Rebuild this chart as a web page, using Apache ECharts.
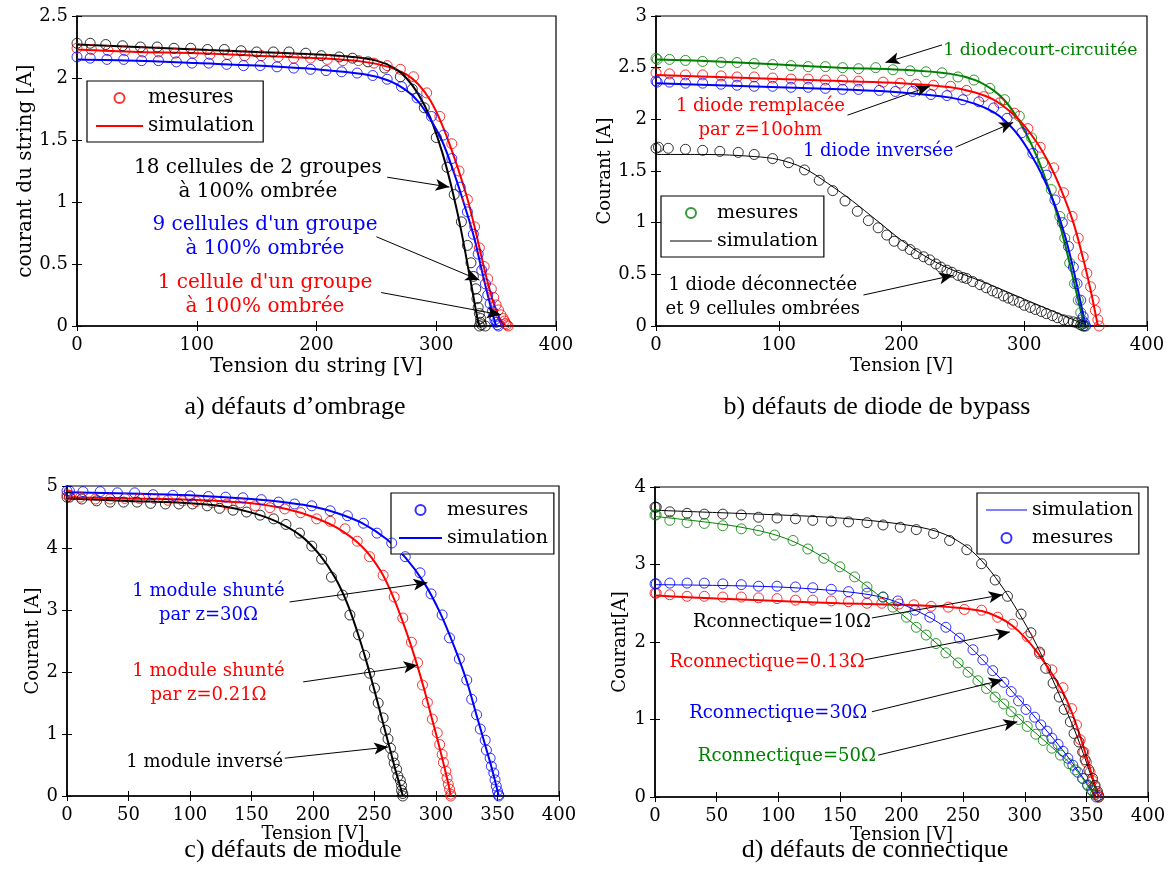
<!DOCTYPE html>
<html><head><meta charset="utf-8">
<script src="https://cdn.jsdelivr.net/npm/echarts@6/dist/echarts.min.js"></script>
<style>html,body{margin:0;padding:0;background:#fff}#c{width:1169px;height:888px}</style>
</head><body><div id="c"></div>
<script>
// ---------- axis ticks ----------
const xTicksAB = [0, 100, 200, 300, 400];
const xTicksCD = [0, 50, 100, 150, 200, 250, 300, 350, 400];
const yTicksA = [0, 0.5, 1, 1.5, 2, 2.5];
const yTicksB = [0, 0.5, 1, 1.5, 2, 2.5, 3];
const yTicksC = [0, 1, 2, 3, 4, 5];
const yTicksD = [0, 1, 2, 3, 4];

// ---------- a) défauts d'ombrage : [V, I] ----------
const a_mes_noir = [[0,2.28],[11,2.28],[24,2.27],[38,2.26],[53,2.25],[67,2.25],[81,2.24],[95,2.24],[109,2.23],[123,2.23],[137,2.22],[150,2.21],[164,2.21],[177,2.21],[191,2.20],[204,2.18],[219,2.17],[230,2.16],[243,2.13],[257,2.08],[270,2.01],[280,1.91],[290,1.76],[300,1.52],[309,1.28],[315,1.06],[321,0.84],[326,0.65],[329,0.51],[331,0.40],[333,0.30],[334,0.22],[335,0.15],[336,0.10],[337,0.06],[337,0.03],[338,0.01],[336,0.0],[341,0.0]];
const a_sim_noir = [[0,2.27],[50,2.25],[100,2.23],[150,2.21],[200,2.19],[230,2.17],[250,2.14],[265,2.08],[275,2.00],[285,1.87],[295,1.68],[305,1.40],[312,1.15],[318,0.90],[323,0.66],[327,0.45],[331,0.24],[334,0.08],[336,0]];
const a_mes_rouge = [[0,2.24],[12,2.23],[26,2.22],[40,2.22],[55,2.21],[68,2.21],[82,2.20],[97,2.20],[111,2.19],[126,2.19],[140,2.18],[154,2.18],[168,2.17],[181,2.16],[195,2.16],[209,2.15],[222,2.14],[235,2.14],[248,2.12],[259,2.10],[270,2.07],[281,2.01],[292,1.88],[303,1.69],[313,1.47],[319,1.25],[326,1.02],[332,0.80],[336,0.63],[340,0.48],[343,0.38],[346,0.30],[348,0.23],[350,0.17],[352,0.13],[354,0.09],[356,0.06],[357,0.04],[358,0.02],[359,0.01],[360,0.0]];
const a_sim_rouge = [[0,2.23],[50,2.21],[100,2.20],[150,2.18],[200,2.16],[240,2.13],[260,2.09],[275,2.03],[285,1.95],[295,1.82],[305,1.62],[315,1.36],[325,1.06],[332,0.80],[338,0.55],[343,0.35],[348,0.18],[353,0.06],[358,0]];
const a_mes_bleu = [[0,2.17],[11,2.16],[25,2.15],[39,2.15],[54,2.14],[68,2.14],[83,2.13],[96,2.12],[110,2.12],[125,2.11],[139,2.10],[153,2.10],[167,2.09],[181,2.08],[195,2.07],[208,2.06],[221,2.05],[234,2.04],[247,2.02],[259,1.99],[271,1.93],[284,1.84],[296,1.69],[306,1.54],[313,1.35],[320,1.12],[326,0.92],[331,0.74],[335,0.58],[338,0.45],[341,0.34],[343,0.25],[345,0.18],[347,0.12],[348,0.08],[349,0.05],[350,0.03],[351,0.01],[352,0.0]];
const a_sim_bleu = [[0,2.15],[50,2.14],[100,2.12],[150,2.10],[200,2.07],[240,2.03],[260,1.98],[275,1.90],[285,1.81],[295,1.67],[305,1.49],[315,1.23],[325,0.93],[332,0.70],[338,0.45],[343,0.25],[347,0.10],[350,0.0]];

// ---------- b) défauts de diode de bypass ----------
const b_mes_vert = [[0,2.59],[1,2.58],[11,2.58],[24,2.57],[38,2.56],[53,2.55],[66,2.55],[80,2.54],[95,2.53],[110,2.52],[124,2.51],[138,2.51],[152,2.50],[165,2.49],[179,2.50],[193,2.48],[207,2.47],[220,2.46],[233,2.45],[246,2.41],[259,2.38],[272,2.30],[284,2.19],[296,2.03],[306,1.82],[315,1.58],[322,1.32],[329,1.06],[333,0.85],[337,0.61],[341,0.41],[344,0.25],[346,0.13],[347,0.06],[348,0.02],[349,0.0]];
const b_sim_vert = [[0,2.58],[50,2.56],[100,2.53],[150,2.50],[200,2.48],[240,2.44],[260,2.38],[275,2.28],[285,2.17],[295,2.00],[305,1.78],[315,1.50],[325,1.15],[333,0.80],[340,0.45],[345,0.20],[349,0]];
const b_mes_rouge = [[0,2.45],[11,2.44],[24,2.43],[38,2.43],[53,2.42],[66,2.41],[80,2.41],[95,2.40],[110,2.39],[124,2.39],[138,2.38],[152,2.38],[165,2.37],[185,2.36],[199,2.35],[212,2.34],[226,2.33],[240,2.32],[253,2.28],[267,2.22],[280,2.16],[292,2.06],[303,1.91],[313,1.73],[324,1.53],[332,1.29],[339,1.06],[344,0.85],[348,0.67],[351,0.51],[354,0.38],[357,0.25],[358,0.15],[360,0.06],[361,0.0]];
const b_sim_rouge = [[0,2.43],[50,2.41],[100,2.39],[150,2.37],[200,2.35],[240,2.31],[260,2.26],[275,2.19],[290,2.06],[300,1.94],[310,1.78],[320,1.58],[330,1.32],[340,1.00],[348,0.65],[354,0.35],[358,0.12],[360,0]];
const b_mes_bleu = [[0,2.37],[1,2.36],[11,2.36],[24,2.35],[38,2.35],[53,2.34],[66,2.33],[80,2.32],[95,2.32],[110,2.31],[124,2.31],[138,2.30],[152,2.29],[165,2.29],[182,2.28],[195,2.27],[209,2.27],[224,2.24],[237,2.23],[250,2.19],[263,2.17],[275,2.11],[286,2.01],[298,1.87],[307,1.67],[318,1.46],[325,1.22],[331,1.0],[336,0.77],[340,0.57],[343,0.41],[346,0.25],[348,0.09],[349,0.03],[350,0.0]];
const b_sim_bleu = [[0,2.35],[50,2.33],[100,2.31],[150,2.29],[200,2.26],[240,2.21],[260,2.15],[275,2.07],[285,1.98],[295,1.85],[305,1.67],[315,1.45],[325,1.17],[333,0.88],[340,0.55],[345,0.28],[350,0]];
const b_mes_noir = [[0,1.72],[2,1.73],[10,1.72],[24,1.71],[38,1.70],[52,1.69],[67,1.68],[80,1.66],[95,1.62],[108,1.58],[121,1.51],[133,1.41],[144,1.31],[154,1.21],[164,1.11],[173,1.02],[181,0.95],[188,0.88],[194,0.82],[201,0.78],[207,0.74],[212,0.70],[218,0.67],[223,0.64],[228,0.60],[232,0.57],[237,0.54],[241,0.52],[246,0.49],[250,0.47],[253,0.46],[258,0.43],[264,0.40],[269,0.37],[274,0.34],[278,0.32],[283,0.29],[287,0.27],[291,0.25],[296,0.23],[300,0.20],[305,0.18],[309,0.16],[314,0.14],[318,0.12],[323,0.10],[327,0.08],[332,0.06],[336,0.05],[340,0.04],[343,0.03],[346,0.01],[348,0.0]];
const b_sim_noir = [[0,1.66],[40,1.66],[80,1.64],[100,1.61],[120,1.53],[140,1.38],[160,1.21],[180,1.02],[200,0.83],[220,0.67],[240,0.55],[270,0.41],[300,0.26],[330,0.11],[348,0.02],[350,0]];

// ---------- c) défauts de module ----------
const c_mes_noir = [[0,4.82],[2,4.82],[12,4.79],[24,4.76],[35,4.74],[46,4.74],[57,4.74],[68,4.72],[80,4.71],[91,4.71],[102,4.71],[114,4.68],[124,4.64],[135,4.61],[146,4.58],[157,4.53],[168,4.47],[178,4.38],[189,4.24],[199,4.03],[207,3.82],[215,3.53],[224,3.24],[230,2.92],[237,2.60],[242,2.27],[246,1.98],[250,1.74],[253,1.50],[257,1.26],[259,1.06],[261,0.92],[263,0.77],[265,0.64],[266,0.53],[268,0.43],[269,0.32],[271,0.25],[272,0.17],[272,0.09],[273,0.04],[273,0.0]];
const c_sim_noir = [[0,4.80],[50,4.76],[100,4.72],[130,4.66],[150,4.57],[170,4.43],[190,4.20],[205,3.90],[218,3.52],[228,3.10],[236,2.65],[243,2.20],[250,1.70],[256,1.25],[262,0.80],[267,0.42],[271,0.15],[273,0]];
const c_mes_rouge = [[0,4.86],[2,4.85],[11,4.82],[23,4.79],[35,4.79],[47,4.80],[59,4.80],[71,4.80],[82,4.77],[94,4.76],[105,4.75],[118,4.73],[130,4.71],[141,4.73],[153,4.68],[165,4.65],[177,4.63],[190,4.57],[203,4.47],[214,4.43],[226,4.31],[236,4.11],[246,3.86],[257,3.56],[266,3.21],[273,2.87],[280,2.48],[285,2.15],[289,1.79],[293,1.51],[297,1.24],[301,1.02],[303,0.83],[305,0.67],[306,0.54],[308,0.40],[309,0.29],[310,0.19],[311,0.11],[312,0.03],[312,0.0]];
const c_sim_rouge = [[0,4.82],[50,4.80],[100,4.78],[150,4.72],[180,4.62],[200,4.50],[220,4.32],[240,4.02],[255,3.63],[265,3.22],[275,2.70],[283,2.22],[290,1.75],[296,1.30],[302,0.85],[307,0.45],[310,0.20],[312,0]];
const c_mes_bleu = [[0,4.92],[2,4.92],[13,4.91],[27,4.91],[41,4.89],[55,4.89],[70,4.86],[86,4.85],[100,4.84],[115,4.83],[129,4.82],[143,4.81],[158,4.78],[172,4.74],[185,4.71],[199,4.68],[214,4.60],[228,4.52],[241,4.40],[252,4.24],[264,4.08],[275,3.86],[287,3.60],[296,3.26],[305,2.92],[311,2.55],[319,2.21],[325,1.87],[329,1.56],[333,1.31],[336,1.08],[340,0.90],[341,0.74],[344,0.61],[345,0.48],[347,0.37],[348,0.26],[349,0.16],[350,0.08],[351,0.02],[351,0.0]];
const c_sim_bleu = [[0,4.90],[50,4.88],[100,4.85],[150,4.79],[180,4.73],[200,4.67],[220,4.56],[240,4.40],[260,4.14],[275,3.85],[290,3.45],[303,2.97],[315,2.40],[325,1.85],[333,1.30],[340,0.82],[346,0.40],[351,0]];

// ---------- d) défauts de connectique ----------
const d_mes_noir = [[0,3.74],[1,3.74],[12,3.68],[26,3.66],[40,3.65],[55,3.65],[70,3.64],[84,3.61],[99,3.60],[114,3.59],[128,3.57],[143,3.56],[157,3.55],[172,3.54],[185,3.51],[199,3.48],[212,3.45],[226,3.40],[239,3.31],[253,3.19],[265,3.01],[276,2.80],[286,2.59],[297,2.36],[305,2.12],[312,1.87],[317,1.66],[323,1.47],[328,1.29],[332,1.13],[337,0.97],[340,0.82],[344,0.71],[347,0.58],[349,0.48],[352,0.35],[355,0.24],[357,0.15],[359,0.07],[360,0.02],[360,0.0]];
const d_sim_noir = [[0,3.70],[50,3.67],[100,3.64],[150,3.60],[200,3.52],[230,3.42],[250,3.26],[265,3.05],[280,2.75],[295,2.38],[310,1.95],[325,1.43],[340,0.88],[350,0.45],[357,0.12],[360,0]];
const d_mes_rouge = [[0,2.63],[1,2.63],[12,2.61],[26,2.59],[40,2.59],[55,2.58],[70,2.58],[84,2.57],[99,2.56],[114,2.54],[128,2.54],[143,2.53],[157,2.52],[172,2.50],[184,2.50],[198,2.49],[210,2.48],[224,2.46],[238,2.45],[251,2.42],[265,2.41],[278,2.32],[290,2.23],[302,2.07],[312,1.85],[322,1.64],[331,1.41],[338,1.14],[342,0.93],[345,0.74],[348,0.58],[350,0.45],[353,0.32],[355,0.21],[357,0.13],[359,0.05],[360,0.0]];
const d_sim_rouge = [[0,2.60],[50,2.56],[100,2.53],[150,2.50],[200,2.48],[240,2.45],[265,2.40],[280,2.31],[290,2.21],[300,2.06],[310,1.87],[320,1.64],[330,1.38],[338,1.10],[345,0.78],[352,0.42],[357,0.15],[360,0]];
const d_mes_bleu = [[0,2.75],[1,2.75],[12,2.76],[26,2.76],[40,2.76],[55,2.75],[70,2.74],[84,2.72],[99,2.72],[114,2.71],[128,2.70],[143,2.68],[157,2.65],[172,2.63],[185,2.58],[197,2.53],[211,2.41],[223,2.32],[236,2.19],[247,2.05],[258,1.90],[266,1.77],[274,1.63],[283,1.48],[289,1.36],[295,1.24],[301,1.13],[308,1.03],[313,0.93],[318,0.85],[322,0.76],[327,0.68],[331,0.59],[335,0.50],[339,0.41],[343,0.32],[347,0.24],[351,0.15],[355,0.08],[358,0.0]];
const d_sim_bleu = [[0,2.74],[50,2.73],[100,2.71],[140,2.67],[170,2.62],[190,2.55],[210,2.42],[230,2.25],[250,2.02],[270,1.70],[290,1.36],[310,1.00],[330,0.62],[345,0.30],[358,0]];
const d_mes_vert = [[0,3.64],[1,3.64],[12,3.57],[26,3.54],[40,3.53],[55,3.50],[70,3.46],[84,3.44],[97,3.38],[112,3.31],[124,3.20],[137,3.08],[150,2.97],[162,2.84],[172,2.71],[185,2.58],[193,2.45],[204,2.32],[212,2.19],[220,2.09],[228,1.98],[236,1.86],[246,1.73],[254,1.61],[262,1.50],[269,1.40],[276,1.29],[283,1.20],[289,1.10],[295,1.00],[302,0.91],[309,0.81],[315,0.73],[322,0.63],[329,0.54],[336,0.43],[341,0.35],[347,0.24],[351,0.16],[354,0.09],[357,0.03]];
const d_sim_vert = [[0,3.62],[50,3.53],[80,3.45],[100,3.37],[120,3.24],[140,3.06],[160,2.86],[180,2.62],[200,2.36],[220,2.10],[240,1.82],[260,1.54],[280,1.25],[300,0.95],[320,0.67],[340,0.38],[357,0]];

// ---------- texts ----------
const titles = ['a) défauts d\u2019ombrage', 'b) défauts de diode de bypass', 'c) défauts de module', 'd) défauts de connectique'];
const xNames = ['Tension du string [V]', 'Tension [V]', 'Tension [V]', 'Tension [V]'];
const yNames = ['courant du string [A]', 'Courant [A]', 'Courant [A]', 'Courant[A]'];
// annotations: [text, [Vtext, Itext], [Vfrom, Ifrom], [Vto, Ito], colour, align]
const annotA = [
  ['18 cellules de 2 groupes\nà 100% ombrée', [151, 1.18], [259, 1.20], [311, 1.12], 'noir', 'center'],
  ['9 cellules d\'un groupe\nà 100% ombrée', [157, 0.72], [250, 0.72], [336, 0.37], 'bleu', 'center'],
  ['1 cellule d\'un groupe\nà 100% ombrée', [157, 0.25], [254, 0.27], [354, 0.09], 'rouge', 'center']
];
const annotB = [
  ['1 diodecourt-circuitée', [234, 2.67], [233, 2.72], [187, 2.55], 'vert', 'left'],
  ['1 diode remplacée\npar z=10ohm', [85, 2.01], [156, 2.04], [223, 2.32], 'rouge', 'center'],
  ['1 diode inversée', [181, 1.69], [244, 1.73], [291, 1.97], 'bleu', 'center'],
  ['1 diode déconnectée\net 9 cellules ombrées', [87, 0.28], [169, 0.30], [242, 0.49], 'noir', 'center']
];
const annotC = [
  ['1 module shunté\npar z=30\u03a9', [115, 3.10], [181, 3.13], [293, 3.44], 'bleu', 'center'],
  ['1 module shunté\npar z=0.21\u03a9', [115, 1.81], [192, 1.84], [285, 2.11], 'rouge', 'center'],
  ['1 module inversé', [112, 0.55], [177, 0.61], [261, 0.79], 'noir', 'center']
];
const annotD = [
  ['Rconnectique=10\u03a9', [103, 2.25], [176, 2.31], [282, 2.61], 'noir', 'center'],
  ['Rconnectique=0.13\u03a9', [91, 1.74], [170, 1.77], [288, 2.13], 'rouge', 'center'],
  ['Rconnectique=30\u03a9', [100, 1.08], [176, 1.10], [282, 1.51], 'bleu', 'center'],
  ['Rconnectique=50\u03a9', [107, 0.52], [181, 0.54], [294, 0.97], 'vert', 'center']
];

// ---------- styling ----------
const COL = { noir: '#000000', rouge: '#ff0000', bleu: '#0000ff', vert: '#008000' };
const SERIF = '"DejaVu Serif", serif';
const grids = [
  { left: 77, top: 16, width: 479, height: 310 },
  { left: 656, top: 16, width: 491, height: 310 },
  { left: 67, top: 486, width: 492, height: 310 },
  { left: 655, top: 487, width: 493, height: 310 }
];
const xTicks = [xTicksAB, xTicksAB, xTicksCD, xTicksCD];
const yTicks = [yTicksA, yTicksB, yTicksC, yTicksD];
const xNameGap = [31, 31, 28, 27];
const yNameGap = [40, 35, 24, 26];
const nameSize = [20, 18, 18, 18];
const annotSize = [20, 18, 18, 18];

const xAxis = [], yAxis = [];
for (let p = 0; p < 4; p++) {
  const xt = xTicks[p], yt = yTicks[p];
  const common = {
    gridIndex: p, type: 'value', splitLine: { show: false },
    axisTick: { inside: true, length: 5, lineStyle: { color: '#000', width: 1 } }
  };
  xAxis.push(Object.assign({}, common, {
    position: 'bottom', min: xt[0], max: xt[xt.length - 1], interval: xt[1] - xt[0],
    axisLine: { show: true, lineStyle: { color: '#000', width: 1.6 } },
    axisLabel: { color: '#000', fontFamily: SERIF, fontSize: 18, margin: 10 },
    name: xNames[p], nameLocation: 'middle', nameGap: xNameGap[p],
    nameTextStyle: { color: '#000', fontFamily: SERIF, fontSize: nameSize[p] }
  }));
  xAxis.push(Object.assign({}, common, {
    position: 'top', min: xt[0], max: xt[xt.length - 1], interval: xt[1] - xt[0],
    axisLine: { show: false }, axisLabel: { show: false }
  }));
  yAxis.push(Object.assign({}, common, {
    position: 'left', min: yt[0], max: yt[yt.length - 1], interval: yt[1] - yt[0],
    axisLine: { show: true, lineStyle: { color: '#000', width: 1.6 } },
    axisLabel: { color: '#000', fontFamily: SERIF, fontSize: 18, margin: 9 },
    name: yNames[p], nameLocation: 'middle', nameGap: yNameGap[p],
    nameTextStyle: { color: '#000', fontFamily: SERIF, fontSize: nameSize[p] }
  }));
  yAxis.push(Object.assign({}, common, {
    position: 'right', min: yt[0], max: yt[yt.length - 1], interval: yt[1] - yt[0],
    axisLine: { show: false }, axisLabel: { show: false }
  }));
}

const series = [];
function addLine(p, name, data, col, width) {
  series.push({
    type: 'line', name: name, xAxisIndex: 2 * p, yAxisIndex: 2 * p, data: data,
    symbol: 'none', smooth: 0.35, lineStyle: { color: COL[col], width: width },
    itemStyle: { color: COL[col] }, z: 3, silent: true
  });
}
function addMes(p, name, data, col) {
  series.push({
    type: 'scatter', name: name, xAxisIndex: 2 * p, yAxisIndex: 2 * p, data: data,
    symbol: 'circle', symbolSize: 10,
    itemStyle: { color: 'rgba(0,0,0,0)', borderColor: COL[col], borderWidth: 1 },
    z: 4, silent: true
  });
}
function addAnnot(p, list) {
  series.push({
    type: 'scatter', name: 'annot' + p, xAxisIndex: 2 * p, yAxisIndex: 2 * p,
    symbolSize: 0.01, itemStyle: { color: 'rgba(0,0,0,0)' }, silent: true, z: 6,
    data: list.map(a => ({
      value: a[1],
      label: {
        show: true, position: 'inside', formatter: a[0], color: COL[a[4]], align: a[5],
        verticalAlign: 'middle', textBorderWidth: 0, opacity: 1,
        fontFamily: SERIF, fontSize: (p === 1 && a[5] === 'left') ? 17.3 : annotSize[p], lineHeight: 24
      }
    })),
    markLine: {
      silent: true, symbol: ['none', 'arrow'], symbolSize: [9, 14], animation: false,
      lineStyle: { color: '#000', width: 1, type: 'solid' }, label: { show: false },
      data: list.map(a => [{ coord: a[2] }, { coord: a[3] }])
    }
  });
}

// a
addLine(0, 'simulation\u00b7a', a_sim_rouge, 'rouge', 2);
addLine(0, 'a_sim_noir', a_sim_noir, 'noir', 2);
addLine(0, 'a_sim_bleu', a_sim_bleu, 'bleu', 2);
addMes(0, 'mesures\u00b7a', a_mes_rouge, 'rouge');
addMes(0, 'a_mes_noir', a_mes_noir, 'noir');
addMes(0, 'a_mes_bleu', a_mes_bleu, 'bleu');
addAnnot(0, annotA);
// b
addLine(1, 'b_sim_vert', b_sim_vert, 'vert', 2);
addLine(1, 'b_sim_rouge', b_sim_rouge, 'rouge', 2);
addLine(1, 'b_sim_bleu', b_sim_bleu, 'bleu', 2);
addLine(1, 'simulation\u00b7b', b_sim_noir, 'noir', 1);
addMes(1, 'mesures\u00b7b', b_mes_vert, 'vert');
addMes(1, 'b_mes_rouge', b_mes_rouge, 'rouge');
addMes(1, 'b_mes_bleu', b_mes_bleu, 'bleu');
addMes(1, 'b_mes_noir', b_mes_noir, 'noir');
addAnnot(1, annotB);
// c
addLine(2, 'c_sim_noir', c_sim_noir, 'noir', 2);
addLine(2, 'c_sim_rouge', c_sim_rouge, 'rouge', 2);
addLine(2, 'simulation\u00b7c', c_sim_bleu, 'bleu', 2);
addMes(2, 'c_mes_noir', c_mes_noir, 'noir');
addMes(2, 'c_mes_rouge', c_mes_rouge, 'rouge');
addMes(2, 'mesures\u00b7c', c_mes_bleu, 'bleu');
addAnnot(2, annotC);
// d
addLine(3, 'd_sim_noir', d_sim_noir, 'noir', 1);
addLine(3, 'd_sim_rouge', d_sim_rouge, 'rouge', 2);
addLine(3, 'simulation\u00b7d', d_sim_bleu, 'bleu', 1);
addLine(3, 'd_sim_vert', d_sim_vert, 'vert', 1);
addMes(3, 'd_mes_noir', d_mes_noir, 'noir');
addMes(3, 'd_mes_rouge', d_mes_rouge, 'rouge');
addMes(3, 'mesures\u00b7d', d_mes_bleu, 'bleu');
addMes(3, 'd_mes_vert', d_mes_vert, 'vert');
addAnnot(3, annotD);

const THICK = 'path://M0,0H100V4.6H0Z';
const THIN = 'path://M0,0H100V2.4H0Z';
function legend(left, top, items, w, fs, pad) {
  return {
    left: left, top: top, orient: 'vertical', selectedMode: false,
    data: items.map(it => it[1] ? { name: it[0], icon: it[1] } : { name: it[0] }),
    itemWidth: w, itemHeight: 10, itemGap: 6,
    padding: pad, borderColor: '#000', borderWidth: 1.2, backgroundColor: '#fff',
    formatter: n => n.split('\u00b7')[0],
    textStyle: { color: '#000', fontFamily: SERIF, fontSize: fs, lineHeight: 22 }
  };
}

const option = {
  animation: false,
  backgroundColor: '#fff',
  grid: grids.map(g => Object.assign({ show: true, borderColor: '#000', borderWidth: 1.2, backgroundColor: 'rgba(0,0,0,0)' }, g)),
  xAxis: xAxis, yAxis: yAxis,
  title: [
    { text: titles[0], left: 290, top: 389 },
    { text: titles[1], left: 872, top: 389 },
    { text: titles[2], left: 288, top: 832 },
    { text: titles[3], left: 870, top: 832 }
  ].map(t => Object.assign(t, { textAlign: 'center', textStyle: { color: '#000', fontFamily: '"Liberation Serif", serif', fontSize: 26, fontWeight: 'normal' } })),
  legend: [
    legend(87, 81, [['mesures\u00b7a'], ['simulation\u00b7a', THICK]], 47, 20, [6, 9, 5, 9]),
    legend(661, 196, [['mesures\u00b7b'], ['simulation\u00b7b', THIN]], 42, 19, [6, 6, 5, 9]),
    legend(391, 493, [['mesures\u00b7c'], ['simulation\u00b7c', THICK]], 43, 19, [6, 6, 5, 8]),
    legend(977, 493, [['simulation\u00b7d', THIN], ['mesures\u00b7d']], 41, 19, [6, 6, 5, 9])
  ],
  series: series
};
const chart = echarts.init(document.getElementById('c'), null, { renderer: 'canvas' });
chart.setOption(option);
</script>
</body></html>
